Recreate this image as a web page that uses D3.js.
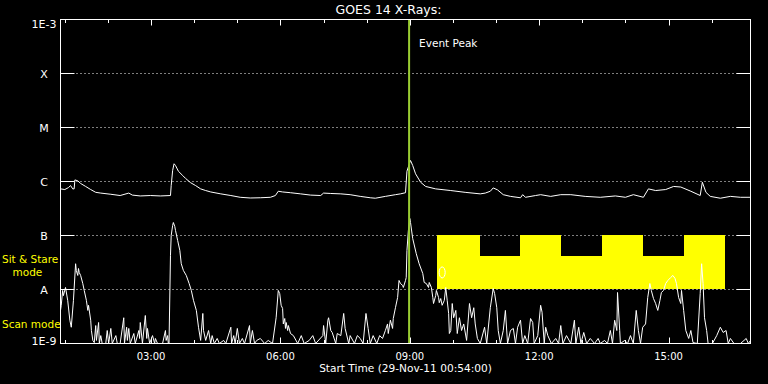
<!DOCTYPE html>
<html><head><meta charset="utf-8">
<script src="https://cdn.jsdelivr.net/npm/d3@7"></script>
<style>
html,body{margin:0;padding:0;background:#000;}
svg{display:block;}
text{font-family:"DejaVu Sans",sans-serif;}
</style></head><body>
<svg id="c" width="768" height="384"></svg>
<script>
// ---------- data ----------
const chartTitle = "GOES 14 X-Rays:";
const startLabel = "Start Time (29-Nov-11 00:54:00)";
const startTime = "2011-11-29T00:54:00Z";
const spanMinutes = 960;
const levelValues = [1e-3, 1e-4, 1e-5, 1e-6, 1e-7, 1e-8, 1e-9];
const levelLabels = ["1E-3", "X", "M", "C", "B", "A", "1E-9"];
const timeTickLabels = ["03:00", "06:00", "09:00", "12:00", "15:00"];
// [minutes after start, flux W/m^2] long channel (1-8 A)
const longChannel = [
[0,7.3e-7],[6,7.1e-7],[11,7.7e-7],[14,8.4e-7],[17,7.3e-7],[19,7.3e-7],[20,1.07e-6],[24,1.03e-6],[28,9.2e-7],[35,8.1e-7],
[42,7.1e-7],[49,6.3e-7],[56,6.1e-7],[70,5.8e-7],[83,5.5e-7],[95,6.1e-7],[100,5.6e-7],[111,5.4e-7],[125,5.5e-7],[139,5.4e-7],
[153,5.5e-7],[154,8.4e-7],[156,1.6e-6],[158,2.13e-6],[160,1.98e-6],[164,1.55e-6],[170,1.29e-6],[174,1.14e-6],[181,9.5e-7],[188,8.4e-7],
[195,7.3e-7],[202,6.8e-7],[209,6.4e-7],[223,5.9e-7],[237,5.5e-7],[250,5.1e-7],[264,4.95e-7],[278,5.0e-7],[292,5.1e-7],[299,5.5e-7],
[303,6.6e-7],[309,6.4e-7],[320,6.2e-7],[334,5.9e-7],[348,5.6e-7],[362,5.5e-7],[366,6.1e-7],[376,6.0e-7],[390,5.9e-7],[403,5.7e-7],
[417,5.3e-7],[431,5.0e-7],[438,4.9e-7],[452,5.3e-7],[466,5.7e-7],[473,5.9e-7],[480,6.2e-7],[482,1.55e-6],[486,2.25e-6],[487,2.45e-6],
[490,1.98e-6],[494,1.39e-6],[501,9.7e-7],[508,8.1e-7],[522,7.3e-7],[543,6.8e-7],[563,6.3e-7],[584,5.9e-7],[591,6.1e-7],[598,6.6e-7],
[602,7.6e-7],[608,7.0e-7],[616,5.7e-7],[626,5.3e-7],[640,5.0e-7],[643,5.7e-7],[647,5.1e-7],[661,5.5e-7],[668,5.7e-7],[682,5.3e-7],
[696,5.7e-7],[710,5.7e-7],[730,5.3e-7],[751,5.1e-7],[772,5.4e-7],[786,5.1e-7],[797,5.7e-7],[811,5.1e-7],[818,7.3e-7],[828,6.8e-7],
[842,7.1e-7],[853,8.1e-7],[863,7.9e-7],[877,6.6e-7],[890,5.5e-7],[893,9.7e-7],[898,6.3e-7],[904,5.3e-7],[918,4.9e-7],[932,5.3e-7],
[946,5.1e-7],[960,5.1e-7]
];
// [minutes after start, flux W/m^2] short channel (0.5-4 A)
const shortChannel = [
[0,4.1e-9],[1,5.1e-9],[3,9.6e-9],[4,7.7e-9],[7,1.09e-8],[10,6.3e-9],[13,2.7e-9],[15,2.0e-9],[18,6.3e-9],[21,3.0e-8],
[22,2.25e-8],[24,1.82e-8],[25,2.45e-8],[26,2.07e-8],[28,1.82e-8],[31,1.29e-8],[33,9.6e-9],[36,6.3e-9],[38,4.1e-9],[39,5.1e-9],
[42,2.7e-9],[43,1.74e-9],[45,1.14e-9],[47,1.04e-9],[49,2.15e-9],[50,1.14e-9],[53,2.45e-9],[54,1e-9],[56,1.4e-9],[58,1e-9],
[63,1e-9],[65,1.74e-9],[67,1e-9],[70,1.9e-9],[72,1e-9],[77,1.4e-9],[79,1e-9],[83,1e-9],[88,3.0e-9],[89,1e-9],
[92,2.0e-9],[93,1.14e-9],[95,1.9e-9],[97,1e-9],[102,1.53e-9],[104,1e-9],[109,1.74e-9],[110,1.24e-9],[111,2.45e-9],[114,1e-9],
[118,3.3e-9],[120,1.24e-9],[121,1.9e-9],[124,1e-9],[128,1.4e-9],[131,1e-9],[132,1.24e-9],[135,1e-9],[142,1e-9],[146,1.74e-9],
[147,1.14e-9],[149,1.4e-9],[150,1e-9],[151,1e-9],[153,4.3e-8],[154,1e-7],[156,1.53e-7],[157,1.74e-7],[159,1.47e-7],[160,1.24e-7],
[163,8.1e-8],[166,5.3e-8],[168,3.0e-8],[171,2.25e-8],[175,1.82e-8],[179,1.29e-8],[182,9.6e-9],[185,6.3e-9],[189,4.1e-9],[192,2.0e-9],
[195,1.14e-9],[198,3.6e-9],[199,1.74e-9],[202,1.14e-9],[206,1.74e-9],[209,1e-9],[211,1.4e-9],[214,1e-9],[218,1.24e-9],[221,1e-9],
[227,1.14e-9],[230,1e-9],[237,2.0e-9],[238,1e-9],[241,1.4e-9],[243,1e-9],[246,1.9e-9],[249,1e-9],[253,1.24e-9],[256,1e-9],
[263,2.15e-9],[264,1e-9],[267,1.74e-9],[270,1e-9],[273,1.14e-9],[278,1.24e-9],[284,1e-9],[289,1.14e-9],[295,1e-9],[300,3.0e-9],
[303,9.6e-9],[305,8.4e-9],[307,5.1e-9],[309,4.45e-9],[310,2.3e-9],[312,2.9e-9],[313,1.9e-9],[314,2.45e-9],[316,1.74e-9],[317,2.15e-9],
[320,1.53e-9],[324,1.4e-9],[330,1e-9],[335,1.4e-9],[339,1e-9],[346,1.14e-9],[351,1.4e-9],[355,1e-9],[365,1.4e-9],[366,2.15e-9],
[369,1e-9],[372,2.7e-9],[373,3.0e-9],[376,1.74e-9],[378,1.6e-9],[383,1e-9],[385,1.53e-9],[390,1.4e-9],[394,3.6e-9],[396,1.9e-9],
[401,1e-9],[403,1.4e-9],[409,1e-9],[413,1.4e-9],[417,1.24e-9],[421,1e-9],[425,3.6e-9],[428,1.9e-9],[431,1e-9],[435,1.4e-9],
[440,1e-9],[444,1.4e-9],[448,1.24e-9],[452,1.74e-9],[455,2.3e-9],[456,1.53e-9],[459,2.7e-9],[462,1.9e-9],[463,2.9e-9],[466,4.6e-9],
[469,7.1e-9],[471,1.47e-8],[473,1.29e-8],[476,1.19e-8],[477,1.09e-8],[480,1.47e-8],[481,1.67e-8],[482,5.3e-8],[484,1.24e-7],[486,2.07e-7],
[487,1.74e-7],[490,8.8e-8],[495,4.6e-8],[499,3.0e-8],[504,1.98e-8],[506,1.35e-8],[509,1.29e-8],[512,1.09e-8],[513,1.35e-8],[516,1.09e-8],
[518,7.1e-9],[519,5.5e-9],[522,7.7e-9],[523,9.6e-9],[526,7.1e-9],[527,5.7e-9],[529,6.8e-9],[531,5.1e-9],[534,6.3e-9],[536,1.09e-8],
[538,6.3e-9],[540,3.6e-9],[541,1.53e-9],[543,1.74e-9],[545,5.5e-9],[547,3.0e-9],[550,4.1e-9],[552,1.53e-9],[555,3.0e-9],[558,1.74e-9],
[561,2.3e-9],[565,1.14e-9],[569,5.5e-9],[572,3.0e-9],[575,4.6e-9],[577,2.3e-9],[580,1.24e-9],[584,1e-9],[590,2.0e-9],[593,1e-9],
[598,4.6e-9],[602,1.04e-8],[604,8.4e-9],[607,4.6e-9],[609,1.74e-9],[612,1e-9],[616,1.74e-9],[619,4.1e-9],[622,1e-9],[626,1.74e-9],
[630,1.9e-9],[633,1e-9],[636,2.0e-9],[640,2.7e-9],[643,1e-9],[646,1.4e-9],[650,1e-9],[654,2.9e-9],[657,2.45e-9],[659,1e-9],
[664,1.4e-9],[668,5.1e-9],[670,3.8e-9],[673,1e-9],[675,2.0e-9],[678,1.4e-9],[683,1e-9],[689,1.24e-9],[693,1e-9],[696,2.15e-9],
[699,1e-9],[704,1.4e-9],[710,1e-9],[715,2.7e-9],[717,1e-9],[721,2.0e-9],[724,1e-9],[728,1.6e-9],[732,1e-9],[737,1.24e-9],
[743,1e-9],[748,1.24e-9],[751,1e-9],[757,1.14e-9],[761,1e-9],[765,1.74e-9],[768,1e-9],[771,2.7e-9],[774,1.74e-9],[775,8.8e-9],
[778,1.74e-9],[779,1e-9],[785,1.14e-9],[789,1e-9],[793,1.4e-9],[797,1e-9],[801,4.1e-9],[804,1.74e-9],[807,1e-9],[810,2.0e-9],
[814,2.3e-9],[817,7.1e-9],[820,1.29e-8],[822,9.6e-9],[825,6.8e-9],[828,5.5e-9],[831,4.1e-9],[834,6.3e-9],[836,8.8e-9],[839,9.6e-9],
[842,1.29e-8],[845,1.47e-8],[849,1.67e-8],[852,1.82e-8],[855,1.6e-8],[857,1.29e-8],[860,7.1e-9],[863,5.5e-9],[864,9.6e-9],[867,4.1e-9],
[870,1.74e-9],[874,1.24e-9],[877,1.74e-9],[880,1.04e-9],[886,1e-9],[890,8.4e-9],[892,3.0e-8],[894,1.29e-8],[896,3.0e-9],[899,1.74e-9],
[901,1e-9],[907,1e-9],[913,1.4e-9],[918,2.0e-9],[922,1.6e-9],[926,1.74e-9],[929,1e-9],[932,1.24e-9],[937,1e-9],[946,1e-9],
[951,1.14e-9],[954,1.24e-9],[957,1e-9],[960,1.14e-9]
];
// instrument mode blocks: boundaries (minutes after start) and level of each block
const modeEdges = [524, 583, 639, 697, 754, 811, 868, 925];
const modeTops = [1e-7, 4.1e-8, 1e-7, 4.1e-8, 1e-7, 4.1e-8, 1e-7];
const modeBase = 1e-8;
const modeLabels = ["Sit & Stare", "mode", "Scan mode"];
const eventPeakMinute = 485;
const eventLabel = "Event Peak";
// small loop symbol drawn over the mode block [minutes, flux]
const loopMarks = [[531, 2.07e-8]];

// ---------- chart ----------
const W = 768, H = 384;
const L = 60.5, R = 750.5, T = 19.5, B = 343.5;
const svg = d3.select("#c");
svg.append("rect").attr("width", W).attr("height", H).attr("fill", "#000");

const t0 = new Date(startTime);
const tm = m => new Date(t0.getTime() + m * 60000);
const x = d3.scaleUtc().domain([t0, tm(spanMinutes)]).range([L, R]);
const y = d3.scaleLog().domain([1e-9, 1e-3]).range([B, T]).clamp(true);

svg.append("defs").append("clipPath").attr("id", "plot")
  .append("rect").attr("x", L).attr("y", T).attr("width", R - L).attr("height", B - T);

// dotted level lines
const inner = levelValues.slice(1, -1);
svg.append("g").selectAll("line").data(inner).join("line")
  .attr("x1", L).attr("x2", R).attr("y1", d => y(d)).attr("y2", d => y(d))
  .attr("stroke", "#fff").attr("stroke-width", 1).attr("stroke-dasharray", "1,3");
// solid ticks left/right
const tg = svg.append("g").attr("stroke", "#fff").attr("stroke-width", 1);
inner.forEach(v => {
  tg.append("line").attr("x1", L).attr("x2", L + 14).attr("y1", y(v)).attr("y2", y(v));
  tg.append("line").attr("x1", R - 14).attr("x2", R).attr("y1", y(v)).attr("y2", y(v));
});

// yellow mode blocks
const blocks = modeTops.map((v, i) => ({ s: modeEdges[i], e: modeEdges[i + 1], v }));
svg.append("g").selectAll("rect").data(blocks).join("rect")
  .attr("x", d => Math.round(x(tm(d.s))))
  .attr("width", d => Math.round(x(tm(d.e))) - Math.round(x(tm(d.s))))
  .attr("y", d => Math.floor(y(d.v)))
  .attr("height", d => Math.floor(y(modeBase)) - Math.floor(y(d.v)))
  .attr("fill", "#ffff00").attr("shape-rendering", "crispEdges");

// curves
const line = d3.line().x(d => x(tm(d[0]))).y(d => y(d[1]));
const cg = svg.append("g").attr("clip-path", "url(#plot)");
[longChannel, shortChannel].forEach(s => {
  cg.append("path").attr("d", line(s)).attr("fill", "none")
    .attr("stroke", "#fff").attr("stroke-width", 1);
});
svg.append("g").selectAll("ellipse").data(loopMarks).join("ellipse")
  .attr("cx", d => x(tm(d[0]))).attr("cy", d => y(d[1]))
  .attr("rx", 3).attr("ry", 5.5)
  .attr("fill", "none").attr("stroke", "#fff").attr("stroke-width", 1);

// event peak line
const px = x(tm(eventPeakMinute));
svg.append("line").attr("x1", px).attr("x2", px).attr("y1", T).attr("y2", B)
  .attr("stroke", "#9acd32").attr("stroke-width", 2);
svg.append("text").attr("x", px + 10).attr("y", T + 27)
  .attr("fill", "#fff").attr("font-size", 10.5).text(eventLabel);

// frame
svg.append("rect").attr("x", L).attr("y", T).attr("width", R - L).attr("height", B - T)
  .attr("fill", "none").attr("stroke", "#fff").attr("stroke-width", 1);

// time ticks (hourly, long every 3 h)
const hours = x.ticks(d3.utcHour.every(1));
const tk = svg.append("g").attr("stroke", "#fff").attr("stroke-width", 1);
hours.forEach(h => {
  const len = h.getUTCHours() % 3 === 0 ? 6 : 3.5;
  const xx = Math.round(x(h)) + 0.5;
  tk.append("line").attr("x1", xx).attr("x2", xx).attr("y1", T).attr("y2", T + len);
  tk.append("line").attr("x1", xx).attr("x2", xx).attr("y1", B).attr("y2", B - len);
});
const fmt = d3.utcFormat("%H:%M");
const labelled = hours.filter(h => timeTickLabels.includes(fmt(h)));
svg.append("g").selectAll("text").data(labelled).join("text")
  .attr("x", d => x(d)).attr("y", B + 16).attr("text-anchor", "middle")
  .attr("fill", "#fff").attr("font-size", 10).text(d => fmt(d));
svg.append("text").attr("x", (L + R) / 2).attr("y", B + 28).attr("text-anchor", "middle")
  .attr("fill", "#fff").attr("font-size", 10.6).text(startLabel);

// level labels
svg.append("g").selectAll("text").data(levelValues).join("text")
  .attr("x", L - 16.5)
  .attr("y", (d, i) => y(d) + (i === 0 ? 8 : i === levelValues.length - 1 ? 1 : 4.5))
  .attr("text-anchor", "middle").attr("fill", "#fff").attr("font-size", 11)
  .text((d, i) => levelLabels[i]);

// title
svg.append("text").attr("x", (L + R) / 2 - 17).attr("y", 14).attr("text-anchor", "middle")
  .attr("fill", "#fff").attr("font-size", 12.5).text(chartTitle);

// mode labels (yellow)
const midSS = (y(1e-7) + y(1e-8)) / 2, midScan = (y(1e-8) + y(1e-9)) / 2;
const ml = svg.append("g").attr("fill", "#ffff00").attr("font-size", 10.5);
ml.append("text").attr("x", 2).attr("y", midSS).text(modeLabels[0]);
ml.append("text").attr("x", 12.5).attr("y", midSS + 13).text(modeLabels[1]);
ml.append("text").attr("x", 2).attr("y", midScan + 11).text(modeLabels[2]);
</script>
</body></html>
